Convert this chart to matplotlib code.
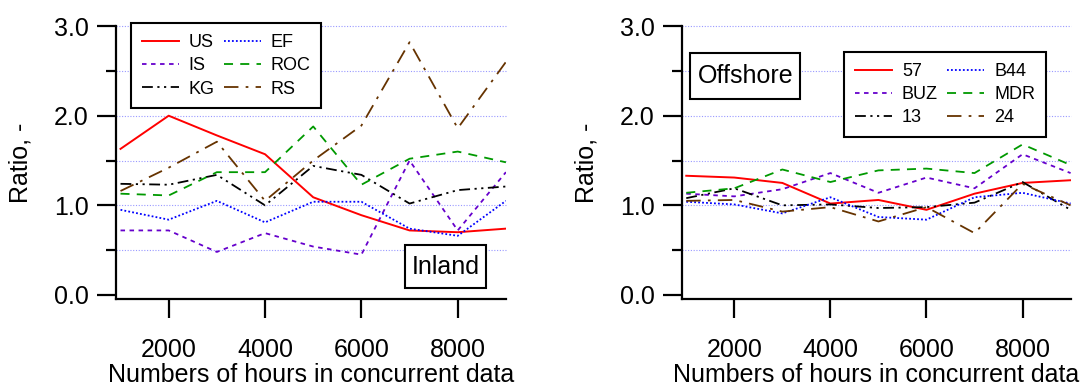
import matplotlib.pyplot as plt
from matplotlib.patches import Rectangle
from matplotlib.ticker import MultipleLocator

plt.rcParams['font.family'] = ['Liberation Sans', 'DejaVu Sans']

hours = [1000, 2000, 3000, 4000, 5000, 6000, 7000, 8000, 9000]

# inland sites
inland_names = ["US", "IS", "KG", "EF", "ROC", "RS"]
us = [1.63, 2.00, 1.78, 1.57, 1.09, 0.89, 0.72, 0.70, 0.74]
is_ = [0.72, 0.72, 0.48, 0.69, 0.54, 0.45, 1.50, 0.72, 1.37]
kg = [1.24, 1.23, 1.34, 1.00, 1.44, 1.34, 1.02, 1.17, 1.21]
ef = [0.95, 0.84, 1.05, 0.81, 1.04, 1.04, 0.74, 0.66, 1.05]
roc = [1.13, 1.11, 1.37, 1.37, 1.88, 1.23, 1.52, 1.60, 1.48]
rs = [1.16, 1.42, 1.71, 1.05, 1.50, 1.89, 2.82, 1.86, 2.60]

# offshore sites
offshore_names = ["57", "BUZ", "13", "B44", "MDR", "24"]
s57 = [1.33, 1.31, 1.25, 1.02, 1.06, 0.95, 1.13, 1.25, 1.28]
buz = [1.13, 1.10, 1.18, 1.36, 1.14, 1.31, 1.19, 1.57, 1.36]
s13 = [1.08, 1.19, 1.00, 1.01, 0.97, 0.98, 1.03, 1.26, 0.95]
b44 = [1.04, 1.01, 0.91, 1.09, 0.87, 0.84, 1.09, 1.14, 1.02]
mdr = [1.14, 1.19, 1.40, 1.26, 1.39, 1.41, 1.36, 1.68, 1.45]
s24 = [1.05, 1.06, 0.93, 0.98, 0.82, 0.98, 0.69, 1.24, 1.00]

styles = [
    dict(color="#ff0000", linestyle="-", linewidth=1.4),
    dict(color="#6600cc", linestyle=(0, (2.5, 2.5)), linewidth=1.3),
    dict(color="black", linestyle=(0, (6, 2.5, 1.2, 2.5, 1.2, 2.5)), linewidth=1.3),
    dict(color="#0000ff", linestyle=(0, (1, 1.2)), linewidth=1.3),
    dict(color="#009900", linestyle=(0, (5, 4)), linewidth=1.3),
    dict(color="#663300", linestyle=(0, (8, 4, 1.5, 4)), linewidth=1.3),
]

FS = 18


def setup(ax):
    ax.set_xlim(915, 9000)
    ax.set_ylim(-0.045, 3.0)
    for s in ["top", "right"]:
        ax.spines[s].set_visible(False)
    for s in ["left", "bottom"]:
        ax.spines[s].set_linewidth(1.6)
    ax.xaxis.set_major_locator(MultipleLocator(2000))
    ax.yaxis.set_major_locator(MultipleLocator(1.0))
    ax.set_yticks([0.5, 1.5, 2.5], minor=True)
    ax.tick_params(axis="x", which="major", direction="out", length=14, width=1.6,
                   labelsize=FS, pad=14)
    ax.tick_params(axis="y", which="major", direction="out", length=14, width=1.6,
                   labelsize=FS, pad=6)
    ax.tick_params(axis="y", which="minor", direction="out", length=7, width=1.6)
    ax.yaxis.set_major_formatter(plt.FormatStrFormatter("%.1f"))
    for v in [0.5, 1.0, 1.5, 2.0, 2.5, 3.0]:
        ax.axhline(v, color="#9999ff", linestyle=(0, (1, 1.5)), linewidth=0.8,
                   zorder=0, clip_on=False)
    ax.set_xlabel("Numbers of hours in concurrent data", fontsize=FS, labelpad=1)
    ax.set_ylabel("Ratio, -", fontsize=FS, labelpad=15)


def label_box(ax, x0, y0, x1, y1, text):
    ax.add_patch(Rectangle((x0, y0), x1 - x0, y1 - y0, transform=ax.transAxes,
                           fc="white", ec="black", lw=1.5, zorder=5))
    ax.text((x0 + x1) / 2, (y0 + y1) / 2, text, transform=ax.transAxes, fontsize=FS,
            ha="center", va="center", zorder=6)


fig = plt.figure(figsize=(10.88, 3.91), dpi=100)
ax1 = fig.add_axes([0.107, 0.2353, 0.358, 0.698])
ax2 = fig.add_axes([0.627, 0.2353, 0.357, 0.698])

for name, vals, st in zip(inland_names, [us, is_, kg, ef, roc, rs], styles):
    ax1.plot(hours, vals, label=name, **st)
for name, vals, st in zip(offshore_names, [s57, buz, s13, b44, mdr, s24], styles):
    ax2.plot(hours, vals, label=name, **st)

setup(ax1)
setup(ax2)

leg_kw = dict(ncol=2, loc="upper left", fontsize=13, frameon=True, fancybox=False,
              edgecolor="black", handlelength=2.05, columnspacing=0.5,
              labelspacing=0.35, handletextpad=0.55, borderpad=0.6,
              borderaxespad=0, framealpha=1)
leg1 = ax1.legend(bbox_to_anchor=(0.0375, 1.011), **leg_kw)
leg1.get_frame().set_linewidth(1.5)
leg2 = ax2.legend(bbox_to_anchor=(0.417, 0.905), **leg_kw)
leg2.get_frame().set_linewidth(1.5)

label_box(ax1, 0.741, 0.040, 0.949, 0.198, "Inland")
label_box(ax2, 0.021, 0.733, 0.304, 0.901, "Offshore")

fig.savefig("out.png", dpi=100)
